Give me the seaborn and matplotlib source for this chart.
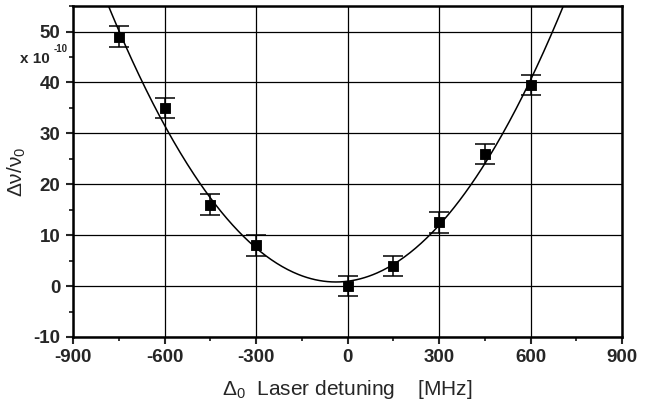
import numpy as np
import pandas as pd
import matplotlib
matplotlib.use("Agg")
import matplotlib.pyplot as plt
import seaborn as sns
from matplotlib.ticker import MultipleLocator

detuning = [-750, -600, -450, -300, 0, 150, 300, 450, 600]
shift = [49, 35, 16, 8, 0, 4, 12.5, 26, 39.5]
err = [2, 2, 2, 2, 2, 2, 2, 2, 2]

# parabolic fit: y = a*(x-x0)^2 + c
fit_a = 9.75e-5
fit_x0 = -38
fit_c = 0.8

x_ticks = [-900, -600, -300, 0, 300, 600, 900]
y_ticks = [-10, 0, 10, 20, 30, 40, 50]

sns.set_style("white")
plt.rcParams['font.family'] = ['Liberation Sans', 'DejaVu Sans']
plt.rcParams['axes.unicode_minus'] = False
plt.rcParams['mathtext.fontset'] = 'custom'
plt.rcParams['mathtext.rm'] = 'Liberation Sans'
plt.rcParams['mathtext.it'] = 'Liberation Sans'
plt.rcParams['mathtext.bf'] = 'Liberation Sans:bold'

fig = plt.figure(figsize=(6.52, 4.05), dpi=100)
ax = fig.add_axes([0.112, 0.168, 0.842, 0.817])

xs = np.linspace(-900, 900, 400)
curve = pd.DataFrame({"x": xs, "y": fit_a * (xs - fit_x0) ** 2 + fit_c})
sns.lineplot(data=curve, x="x", y="y", ax=ax, color="black", lw=1.1, zorder=3)

ax.errorbar(detuning, shift, yerr=err, fmt="none", ecolor="black",
            elinewidth=1.1, capsize=7, capthick=1.1, zorder=4)
df = pd.DataFrame({"x": detuning, "y": shift})
sns.scatterplot(data=df, x="x", y="y", ax=ax, marker="s", s=60,
                color="black", edgecolor="black", zorder=5)

ax.set_xlim(-900, 900)
ax.set_ylim(-10, 55)
ax.set_xticks(x_ticks)
ax.set_yticks(y_ticks)
ax.xaxis.set_minor_locator(MultipleLocator(150))
ax.yaxis.set_minor_locator(MultipleLocator(5))
ax.grid(True, which="major", color="black", lw=0.9)
ax.set_axisbelow(True)

for s in ax.spines.values():
    s.set_linewidth(1.8)
    s.set_color("black")
ax.tick_params(which="major", direction="out", length=5, width=1.5,
               labelsize=13.5, bottom=True, left=True, pad=4)
ax.tick_params(which="minor", direction="out", length=3, width=1.3,
               bottom=True, left=True)
for lab in ax.get_xticklabels() + ax.get_yticklabels():
    lab.set_fontweight("bold")

ax.set_xlabel(r"$\Delta_0$  Laser detuning    [MHz]", fontsize=15, labelpad=8)
ax.set_ylabel(r"$\Delta\nu/\nu_0$", fontsize=15, labelpad=4)
fig.text(0.03, 0.845, "x 10", fontsize=11, fontweight="bold")
fig.text(0.082, 0.872, "-10", fontsize=7, fontweight="bold")

fig.savefig("out.png", dpi=100)
